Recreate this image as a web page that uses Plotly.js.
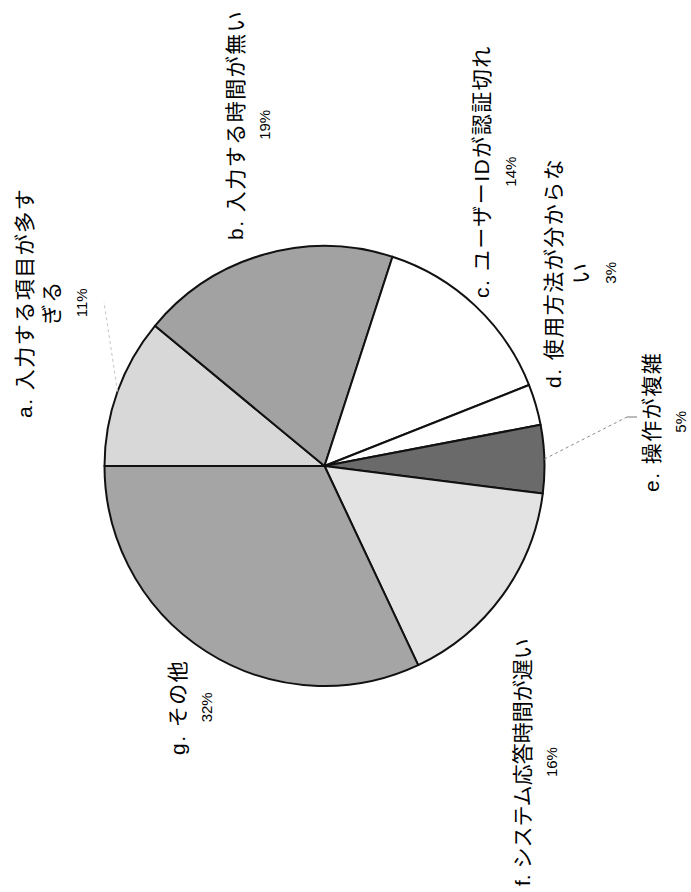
<!DOCTYPE html>
<html>
<head>
<meta charset="utf-8">
<script src="https://cdn.plot.ly/plotly-3.0.1.min.js"></script>
<style>
  html, body { margin: 0; padding: 0; background: #fff; width: 691px; height: 892px; overflow: hidden; }
  /* the chart is laid out landscape and turned a quarter turn counter-clockwise */
  #chart {
    position: absolute; left: 0; top: 0;
    width: 892px; height: 691px;
    transform-origin: 0 0;
    transform: translate(0px, 892px) rotate(-90deg);
  }
</style>
</head>
<body>
<div id="chart"></div>
<script>
// Reasons given for not entering data
const categories = [
  'a. 入力する項目が多す<br>ぎる',
  'b. 入力する時間が無い',
  'c. ユーザーIDが認証切れ',
  'd. 使用方法が分からな<br>い',
  'e. 操作が複雑',
  'f. システム応答時間が遅い',
  'g. その他'
];
const values = [11, 19, 14, 3, 5, 16, 32];
const sliceColors = ['#d8d8d8', '#a2a2a2', '#ffffff', '#ffffff', '#6a6a6a', '#e3e3e3', '#a5a5a5'];

// layout (unrotated landscape frame, pixels)
const W = 892, H = 691;
const cx = 426, cy = 324.5, R = 220;
// label block centres and letter spacing
const labelXY = [[589, 52], [767, 249], [720, 494], [619, 580], [470, 664], [130, 535], [184, 190]];
const tracking = [1.5, 1.5, 1.5, 1.5, 1.5, 0, 1.5];

const px = x => x / W;
const py = y => 1 - y / H;

const total = values.reduce((s, v) => s + v, 0);

// slice mid angles, clockwise from 12 o'clock
const mids = [];
let acc = 0;
values.forEach(v => { mids.push((acc + v / 2) / total * 2 * Math.PI); acc += v; });
const edge = i => [cx + R * Math.sin(mids[i]), cy - R * Math.cos(mids[i])];

const annotations = categories.map((c, i) => ({
  xref: 'paper', yref: 'paper',
  x: px(labelXY[i][0]), y: py(labelXY[i][1]),
  xanchor: 'center', yanchor: 'middle', align: 'center',
  showarrow: false,
  text: c.split('<br>').map(s => '<span style="letter-spacing:' + tracking[i] + 'px">' + s + '</span>').join('<br>') +
        '<br><span style="font-size:15px">' + values[i] + '%</span>',
  font: { family: 'Liberation Sans, Noto Sans CJK JP, sans-serif', size: 21, color: '#000' }
}));

// leader lines for the labels that sit away from their slice
const leader = (i, bend, end, col) => {
  const e = edge(i);
  const out = [{
    type: 'line', xref: 'paper', yref: 'paper',
    x0: px(e[0]), y0: py(e[1]), x1: px(bend[0]), y1: py(bend[1]),
    line: { color: col, width: 1, dash: 'dot' }
  }];
  if (end) out.push({
    type: 'line', xref: 'paper', yref: 'paper',
    x0: px(bend[0]), y0: py(bend[1]), x1: px(end[0]), y1: py(end[1]),
    line: { color: '#777', width: 1 }
  });
  return out;
};
const shapes = [].concat(
  leader(0, [590, 104], null, '#c4c4c4'),
  leader(4, [475, 627], [475, 637], '#8a8a8a')
);

const trace = {
  type: 'pie',
  values: values,
  labels: categories,
  sort: false,
  direction: 'clockwise',
  rotation: 0,
  textinfo: 'none',
  hoverinfo: 'none',
  marker: { colors: sliceColors, line: { color: '#111', width: 2 } },
  domain: { x: [px(cx - R), px(cx + R)], y: [py(cy + R), py(cy - R)] }
};

const layout = {
  width: W, height: H,
  margin: { l: 0, r: 0, t: 0, b: 0 },
  paper_bgcolor: '#fff',
  showlegend: false,
  annotations: annotations,
  shapes: shapes
};

Plotly.newPlot('chart', [trace], layout, { staticPlot: true, displayModeBar: false });
</script>
</body>
</html>
